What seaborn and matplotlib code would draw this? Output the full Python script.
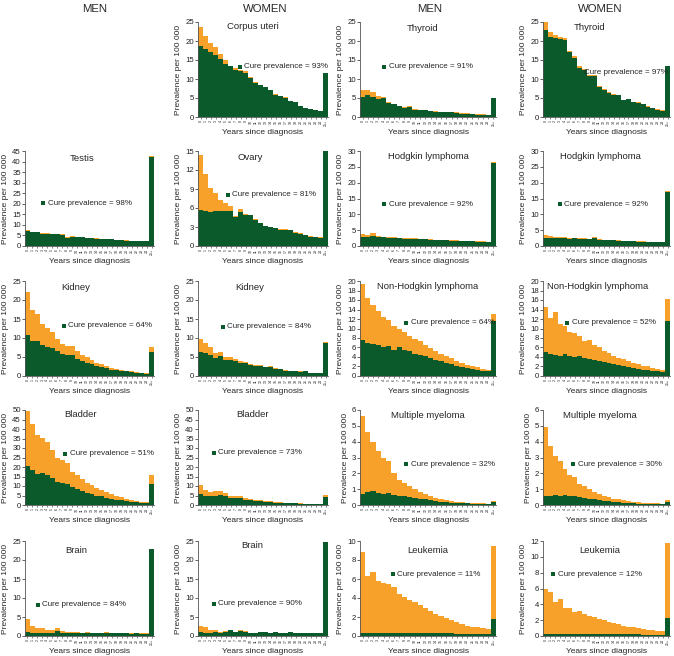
import matplotlib
matplotlib.use("Agg")
import matplotlib.pyplot as plt
import seaborn as sns
import numpy as np
import pandas as pd

sns.set_theme(style="white")
plt.rcParams['font.family'] = ['Liberation Sans', 'DejaVu Sans']

years = [str(i) for i in range(25)] + ["25+"]

# ---- data (prevalence per 100 000): total and cured ----
corpus_total = [23.8, 21.3, 19.6, 18.3, 16.5, 15.0, 13.5, 13.0, 12.5, 12.2, 10.5, 9.2, 8.5, 8.0, 7.2, 6.0, 5.5, 5.2, 4.3, 4.0, 3.0, 2.5, 2.1, 1.9, 1.6, 11.6]
corpus_cured = [18.8, 17.8, 17.0, 16.3, 15.3, 14.0, 13.3, 12.5, 12.0, 11.5, 10.3, 9.0, 8.3, 7.8, 7.0, 5.9, 5.4, 5.1, 4.2, 3.9, 2.9, 2.4, 2.0, 1.8, 1.5, 11.6]

testis_total = [7.5, 6.8, 6.7, 6.0, 6.0, 5.9, 5.7, 5.5, 4.1, 4.6, 4.4, 4.2, 4.0, 3.8, 3.6, 3.5, 3.3, 3.2, 3.0, 2.9, 2.7, 2.6, 2.5, 2.4, 2.3, 42.5]
testis_cured = [7.0, 6.4, 6.5, 5.9, 5.9, 5.8, 5.6, 5.4, 4.0, 4.5, 4.3, 4.1, 3.9, 3.7, 3.5, 3.4, 3.2, 3.1, 2.9, 2.8, 2.6, 2.5, 2.4, 2.3, 2.2, 42.3]

ovary_total = [14.4, 11.3, 9.1, 8.3, 7.3, 6.8, 6.3, 4.8, 5.8, 5.0, 4.9, 4.2, 3.7, 3.2, 3.0, 2.9, 2.7, 2.7, 2.6, 2.2, 2.0, 1.8, 1.6, 1.5, 1.4, 16.3]
ovary_cured = [5.7, 5.6, 5.3, 5.6, 5.5, 5.5, 5.5, 4.6, 5.4, 4.9, 4.9, 4.1, 3.6, 3.1, 3.0, 2.9, 2.6, 2.6, 2.5, 2.1, 1.9, 1.7, 1.5, 1.4, 1.3, 16.3]

kidney_m_total = [22.0, 17.3, 16.3, 13.8, 12.6, 11.5, 9.8, 8.5, 7.9, 7.8, 6.5, 5.5, 4.9, 4.3, 3.5, 3.2, 2.7, 2.2, 1.9, 1.5, 1.4, 1.2, 1.0, 0.8, 0.7, 7.5]
kidney_m_cured = [10.8, 9.3, 9.1, 8.2, 7.6, 7.3, 6.5, 5.7, 5.5, 5.4, 4.6, 4.0, 3.5, 3.2, 2.6, 2.4, 2.1, 1.7, 1.5, 1.3, 1.2, 1.0, 0.8, 0.7, 0.6, 6.3]

kidney_w_total = [9.7, 8.7, 7.6, 6.0, 6.4, 5.0, 4.9, 4.6, 3.9, 3.8, 3.2, 2.8, 2.9, 2.4, 2.5, 2.0, 1.9, 1.5, 1.4, 1.3, 1.2, 1.3, 0.9, 0.9, 0.8, 9.0]
kidney_w_cured = [6.3, 6.0, 5.6, 4.8, 5.3, 4.2, 4.2, 4.0, 3.5, 3.5, 3.0, 2.6, 2.7, 2.3, 2.3, 1.9, 1.8, 1.4, 1.3, 1.2, 1.1, 1.2, 0.8, 0.8, 0.7, 8.6]

bladder_m_total = [49.5, 42.5, 37.0, 35.5, 33.0, 29.0, 25.0, 23.5, 22.0, 17.5, 16.0, 13.5, 11.8, 10.5, 9.0, 8.0, 6.8, 5.8, 4.8, 4.0, 3.4, 2.8, 2.3, 1.8, 1.5, 15.8]
bladder_m_cured = [20.3, 18.5, 16.5, 16.8, 15.8, 14.0, 12.3, 11.8, 11.3, 9.3, 8.3, 7.3, 6.4, 5.7, 5.0, 4.5, 3.8, 3.3, 2.8, 2.4, 2.1, 1.8, 1.5, 1.3, 1.1, 11.0]

bladder_w_total = [10.5, 8.0, 7.0, 7.5, 7.5, 6.5, 5.0, 4.8, 4.5, 3.5, 3.3, 2.8, 2.4, 2.0, 2.2, 1.6, 1.4, 1.3, 1.0, 0.9, 0.8, 0.7, 0.6, 0.6, 0.5, 5.2]
bladder_w_cured = [6.0, 5.0, 4.5, 5.0, 5.2, 4.5, 3.7, 3.7, 3.5, 2.8, 2.6, 2.3, 2.0, 1.7, 1.8, 1.3, 1.2, 1.1, 0.9, 0.8, 0.7, 0.6, 0.5, 0.5, 0.4, 4.4]

brain_m_total = [4.5, 2.7, 2.2, 2.0, 1.6, 1.5, 2.0, 1.2, 1.1, 1.1, 1.0, 0.9, 1.0, 0.9, 0.8, 0.9, 1.0, 0.8, 0.8, 0.8, 0.8, 0.7, 0.8, 0.7, 0.8, 22.8]
brain_m_cured = [1.1, 0.8, 0.8, 0.9, 0.8, 0.8, 1.4, 0.9, 0.9, 0.9, 0.8, 0.7, 0.8, 0.8, 0.7, 0.8, 0.9, 0.7, 0.7, 0.7, 0.7, 0.6, 0.7, 0.6, 0.6, 22.8]

brain_w_total = [2.6, 2.4, 1.6, 1.5, 1.1, 1.2, 1.6, 1.1, 1.5, 1.2, 0.8, 0.8, 1.0, 1.0, 0.9, 1.1, 0.9, 0.9, 1.0, 0.9, 0.8, 0.8, 0.8, 0.8, 0.8, 24.7]
brain_w_cured = [1.0, 0.9, 0.9, 1.0, 0.8, 1.1, 1.5, 1.0, 1.4, 1.1, 0.8, 0.8, 1.0, 1.0, 0.9, 1.1, 0.9, 0.9, 1.0, 0.9, 0.8, 0.8, 0.8, 0.8, 0.8, 24.7]

thyroid_m_total = [7.2, 7.2, 6.5, 5.5, 5.3, 4.0, 3.5, 3.0, 2.7, 2.8, 2.0, 1.9, 1.9, 1.6, 1.5, 1.3, 1.3, 1.3, 1.2, 1.0, 1.0, 0.8, 0.7, 0.7, 0.6, 5.0]
thyroid_m_cured = [5.3, 5.8, 5.3, 4.8, 4.9, 3.7, 3.3, 2.8, 2.5, 2.7, 1.9, 1.8, 1.8, 1.5, 1.4, 1.2, 1.2, 1.2, 1.1, 0.9, 0.9, 0.7, 0.6, 0.6, 0.5, 4.9]

thyroid_w_total = [25.0, 22.4, 21.5, 21.0, 20.7, 17.3, 16.0, 13.3, 12.7, 11.0, 11.0, 8.2, 7.3, 6.5, 6.0, 5.8, 4.5, 4.8, 4.0, 3.9, 3.5, 2.8, 2.4, 2.0, 1.8, 13.5]
thyroid_w_cured = [22.8, 21.0, 20.8, 20.5, 20.3, 17.0, 15.6, 13.0, 12.5, 10.9, 10.9, 8.0, 7.2, 6.4, 5.9, 5.7, 4.4, 4.7, 3.9, 3.8, 3.4, 2.7, 2.3, 1.9, 1.7, 13.5]

hodgkin_m_total = [3.8, 3.5, 4.0, 3.2, 3.0, 2.8, 2.8, 2.6, 2.5, 2.5, 2.4, 2.3, 2.2, 2.1, 2.0, 2.0, 1.9, 1.8, 1.8, 1.7, 1.6, 1.6, 1.5, 1.5, 1.4, 26.5]
hodgkin_m_cured = [2.8, 2.9, 3.3, 2.8, 2.7, 2.5, 2.6, 2.4, 2.3, 2.3, 2.3, 2.2, 2.1, 2.0, 1.9, 1.9, 1.8, 1.7, 1.7, 1.6, 1.5, 1.5, 1.4, 1.4, 1.3, 26.3]

hodgkin_w_total = [3.5, 3.3, 3.0, 2.9, 2.8, 2.6, 2.6, 2.4, 2.4, 2.3, 2.7, 2.1, 2.0, 1.9, 1.9, 1.8, 1.7, 1.7, 1.6, 1.5, 1.5, 1.4, 1.4, 1.3, 1.3, 17.3]
hodgkin_w_cured = [2.5, 2.6, 2.5, 2.5, 2.5, 2.3, 2.4, 2.2, 2.2, 2.1, 2.5, 2.0, 1.9, 1.8, 1.8, 1.7, 1.6, 1.6, 1.5, 1.4, 1.4, 1.3, 1.3, 1.2, 1.2, 17.1]

nhl_m_total = [19.3, 16.5, 15.0, 13.6, 12.5, 11.7, 10.5, 10.0, 9.2, 8.5, 7.8, 7.3, 6.6, 5.9, 5.2, 4.7, 4.2, 3.7, 3.2, 2.8, 2.4, 2.0, 1.8, 1.5, 1.3, 13.0]
nhl_m_cured = [7.5, 7.0, 6.8, 6.5, 6.0, 6.3, 5.5, 6.0, 5.4, 5.2, 4.7, 4.4, 4.2, 3.8, 3.4, 3.1, 2.8, 2.5, 2.2, 1.9, 1.7, 1.5, 1.3, 1.1, 1.0, 11.5]

nhl_w_total = [14.5, 12.2, 13.5, 11.0, 10.5, 9.3, 9.0, 8.5, 7.3, 7.5, 6.5, 6.0, 5.3, 4.8, 4.3, 3.8, 3.5, 3.2, 2.8, 2.5, 2.2, 2.0, 1.7, 1.5, 1.3, 16.2]
nhl_w_cured = [5.0, 4.7, 4.5, 4.2, 4.6, 4.3, 4.0, 4.2, 3.8, 3.6, 3.4, 3.2, 3.0, 2.7, 2.5, 2.3, 2.1, 1.9, 1.7, 1.5, 1.3, 1.2, 1.1, 1.0, 0.9, 11.5]

mm_m_total = [5.6, 4.6, 4.0, 3.4, 3.0, 2.8, 2.0, 1.6, 1.4, 1.2, 1.0, 0.8, 0.7, 0.55, 0.45, 0.4, 0.3, 0.25, 0.2, 0.2, 0.15, 0.12, 0.1, 0.1, 0.08, 0.25]
mm_m_cured = [0.7, 0.8, 0.9, 0.75, 0.7, 0.75, 0.65, 0.6, 0.55, 0.5, 0.45, 0.4, 0.35, 0.3, 0.25, 0.22, 0.18, 0.15, 0.12, 0.12, 0.1, 0.08, 0.07, 0.06, 0.05, 0.2]

mm_w_total = [4.9, 3.7, 3.1, 2.8, 2.3, 1.9, 1.8, 1.3, 1.2, 1.0, 0.8, 0.7, 0.6, 0.5, 0.4, 0.35, 0.3, 0.25, 0.2, 0.18, 0.15, 0.12, 0.1, 0.1, 0.08, 0.3]
mm_w_cured = [0.6, 0.6, 0.65, 0.6, 0.65, 0.6, 0.55, 0.5, 0.45, 0.4, 0.35, 0.32, 0.28, 0.24, 0.2, 0.18, 0.15, 0.12, 0.1, 0.09, 0.08, 0.06, 0.05, 0.05, 0.04, 0.22]

leuk_m_total = [8.8, 6.3, 6.7, 5.8, 5.6, 5.5, 5.2, 4.4, 4.1, 3.8, 3.6, 3.3, 3.0, 2.6, 2.3, 2.1, 1.9, 1.7, 1.5, 1.3, 1.1, 1.0, 0.9, 0.8, 0.7, 9.5]
leuk_m_cured = [0.35, 0.35, 0.35, 0.35, 0.35, 0.35, 0.35, 0.35, 0.35, 0.35, 0.3, 0.3, 0.3, 0.3, 0.3, 0.3, 0.28, 0.27, 0.26, 0.25, 0.24, 0.22, 0.2, 0.2, 0.2, 1.8]

leuk_w_total = [6.0, 5.5, 4.3, 4.7, 3.5, 3.6, 3.0, 3.2, 2.8, 2.5, 2.4, 2.2, 2.0, 1.8, 1.6, 1.5, 1.3, 1.2, 1.1, 1.0, 0.9, 0.8, 0.7, 0.6, 0.6, 11.7]
leuk_w_cured = [0.3, 0.3, 0.3, 0.3, 0.3, 0.3, 0.3, 0.3, 0.3, 0.3, 0.28, 0.27, 0.26, 0.25, 0.24, 0.23, 0.22, 0.21, 0.2, 0.19, 0.18, 0.17, 0.16, 0.15, 0.15, 2.3]

titles = ["Corpus uteri", "Testis", "Ovary", "Kidney", "Kidney", "Bladder", "Bladder", "Brain", "Brain",
          "Thyroid", "Thyroid", "Hodgkin lymphoma", "Hodgkin lymphoma", "Non-Hodgkin lymphoma",
          "Non-Hodgkin lymphoma", "Multiple myeloma", "Multiple myeloma", "Leukemia", "Leukemia"]
cure_pct = [93, 98, 81, 64, 84, 51, 73, 84, 90, 91, 97, 92, 92, 64, 52, 32, 30, 11, 12]
headers = ["MEN", "WOMEN", "MEN", "WOMEN"]

totals = [corpus_total, testis_total, ovary_total, kidney_m_total, kidney_w_total, bladder_m_total,
          bladder_w_total, brain_m_total, brain_w_total, thyroid_m_total, thyroid_w_total,
          hodgkin_m_total, hodgkin_w_total, nhl_m_total, nhl_w_total, mm_m_total, mm_w_total,
          leuk_m_total, leuk_w_total]
cureds = [corpus_cured, testis_cured, ovary_cured, kidney_m_cured, kidney_w_cured, bladder_m_cured,
          bladder_w_cured, brain_m_cured, brain_w_cured, thyroid_m_cured, thyroid_w_cured,
          hodgkin_m_cured, hodgkin_w_cured, nhl_m_cured, nhl_w_cured, mm_m_cured, mm_w_cured,
          leuk_m_cured, leuk_w_cured]

# ---- layout (row, col), y-limit/step, title pos, legend pos ----
cells = [(0, 1), (1, 0), (1, 1), (2, 0), (2, 1), (3, 0), (3, 1), (4, 0), (4, 1),
         (0, 2), (0, 3), (1, 2), (1, 3), (2, 2), (2, 3), (3, 2), (3, 3), (4, 2), (4, 3)]
ylims = [(25, 5), (45, 5), (15, 3), (25, 5), (25, 5), (50, 5), (50, 5), (25, 5), (25, 5),
         (25, 5), (25, 5), (30, 5), (30, 5), (20, 2), (20, 2), (6, 1), (6, 1), (10, 2), (12, 2)]
title_pos = [(0.42, 0.95), (0.44, 0.92), (0.40, 0.93), (0.39, 0.93), (0.40, 0.93), (0.43, 0.95),
             (0.42, 0.95), (0.40, 0.90), (0.42, 0.95), (0.46, 0.93), (0.37, 0.94), (0.50, 0.94),
             (0.45, 0.94), (0.50, 0.94), (0.43, 0.94), (0.50, 0.94), (0.45, 0.94), (0.50, 0.90),
             (0.45, 0.90)]
leg_pos = [(0.32, 0.53), (0.14, 0.45), (0.23, 0.54), (0.30, 0.53), (0.19, 0.52), (0.31, 0.54),
           (0.12, 0.55), (0.10, 0.33), (0.12, 0.34), (0.18, 0.53), (0.29, 0.47), (0.18, 0.44),
           (0.13, 0.44), (0.34, 0.56), (0.19, 0.56), (0.34, 0.43), (0.24, 0.43), (0.24, 0.65),
           (0.08, 0.65)]

GREEN = "#0b5a2b"
ORANGE = "#f7a12b"

W, H = 674, 656
fig = plt.figure(figsize=(W / 100, H / 100), dpi=100)
col_left = [25, 198, 360, 543]
col_w = [129, 130, 136, 127]
row_top = [22, 151, 281, 410, 541]
ax_h = 95

for i in range(len(titles)):
    r, c = cells[i]
    rect = [col_left[c] / W, 1 - (row_top[r] + ax_h) / H, col_w[c] / W, ax_h / H]
    ax = fig.add_axes(rect)
    df = pd.DataFrame({"year": years, "total": totals[i], "cured": cureds[i]})
    sns.barplot(data=df, x="year", y="total", order=years, color=ORANGE, width=1.0,
                linewidth=0, saturation=1, ax=ax)
    sns.barplot(data=df, x="year", y="cured", order=years, color=GREEN, width=1.0,
                linewidth=0, saturation=1, ax=ax)
    ymax, step = ylims[i]
    ax.set_ylim(0, ymax)
    ax.set_yticks(np.arange(0, ymax + 0.001, step))
    ax.set_xlim(-0.5, 25.5)
    ax.set_xticks(range(26))
    ax.set_xticklabels(years, rotation=90, fontsize=2.6)
    ax.tick_params(axis="y", labelsize=5.6, length=2, width=0.5, pad=1, left=True, colors="#222222")
    ax.tick_params(axis="x", length=1.5, width=0.4, pad=0.8, bottom=True, colors="#222222")
    for s in ["top", "right"]:
        ax.spines[s].set_visible(False)
    for s in ["left", "bottom"]:
        ax.spines[s].set_color("#555555")
        ax.spines[s].set_linewidth(0.6)
    ax.set_ylabel("Prevalence per 100 000", fontsize=6, labelpad=2)
    ax.set_xlabel("Years since diagnosis", fontsize=6, labelpad=2)
    tx, ty = title_pos[i]
    ax.text(tx, ty, titles[i], transform=ax.transAxes, ha="center", va="center", fontsize=6.8)
    lx, ly = leg_pos[i]
    ax.scatter([lx], [ly], marker="s", s=9, color=GREEN, transform=ax.transAxes, clip_on=False,
               linewidths=0)
    ax.text(lx + 0.035, ly, "Cure prevalence = %d%%" % cure_pct[i], transform=ax.transAxes,
            ha="left", va="center", fontsize=5.8)
    ax.set_facecolor("white")

header_x = [95, 265, 430, 600]
for c in range(4):
    fig.text(header_x[c] / W, 1 - 9 / H, headers[c], ha="center", va="center", fontsize=8.2)

fig.savefig("out.png", dpi=100, facecolor="white")
